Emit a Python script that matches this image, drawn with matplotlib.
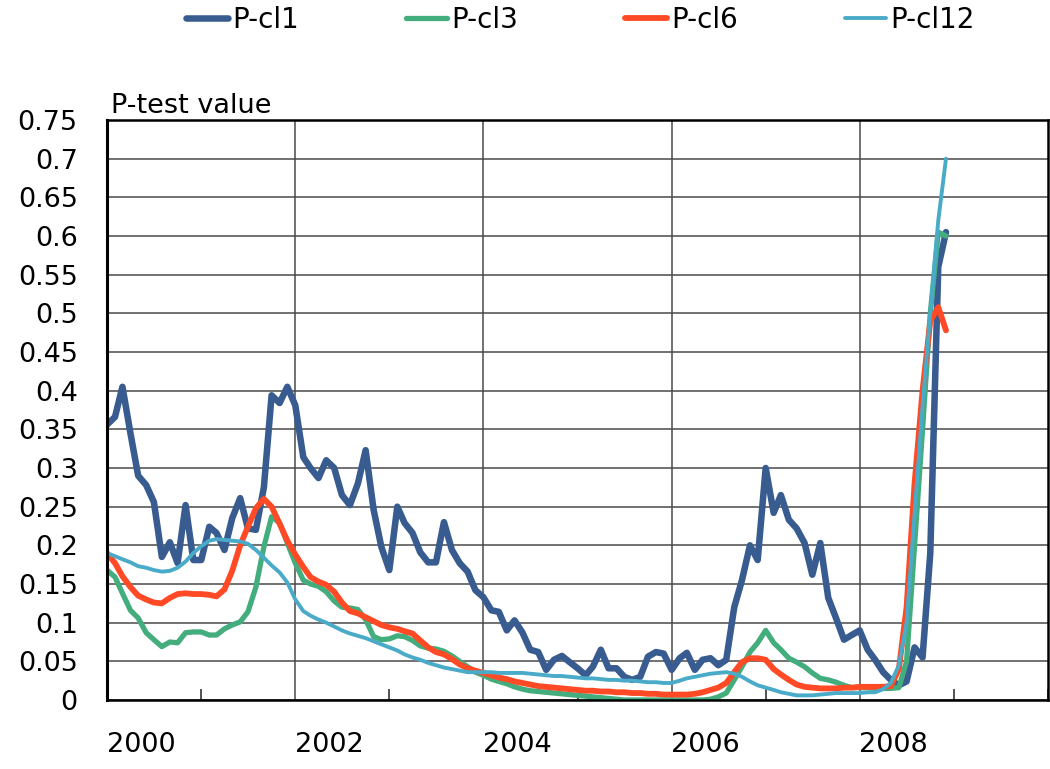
import numpy as np
import pandas as pd
import matplotlib
matplotlib.use("Agg")
import matplotlib.pyplot as plt
import matplotlib.dates as mdates
from matplotlib.transforms import ScaledTranslation

# Monthly P-test values, Jan 2000 - Dec 2008
months = pd.date_range("2000-01-01", periods=108, freq="MS")

p_cl1 = [
    0.356, 0.366, 0.405, 0.345, 0.290, 0.278, 0.256, 0.185, 0.204, 0.177, 0.252, 0.181,
    0.181, 0.224, 0.216, 0.194, 0.235, 0.261, 0.222, 0.220, 0.275, 0.394, 0.384, 0.405,
    0.381, 0.314, 0.300, 0.287, 0.310, 0.300, 0.265, 0.252, 0.280, 0.323, 0.246, 0.198,
    0.168, 0.250, 0.229, 0.216, 0.191, 0.178, 0.178, 0.230, 0.194, 0.177, 0.166, 0.142,
    0.133, 0.116, 0.114, 0.090, 0.103, 0.087, 0.065, 0.062, 0.039, 0.052, 0.057, 0.049,
    0.041, 0.032, 0.043, 0.065, 0.041, 0.041, 0.030, 0.026, 0.030, 0.056, 0.062, 0.060,
    0.039, 0.054, 0.061, 0.039, 0.052, 0.054, 0.045, 0.052, 0.120, 0.155, 0.200, 0.181,
    0.300, 0.242, 0.265, 0.233, 0.222, 0.203, 0.162, 0.203, 0.132, 0.106, 0.078, 0.084,
    0.090, 0.065, 0.052, 0.036, 0.026, 0.019, 0.024, 0.068, 0.055, 0.190, 0.560, 0.605]

p_cl3 = [
    0.168, 0.159, 0.138, 0.116, 0.106, 0.087, 0.078, 0.069, 0.075, 0.074, 0.087, 0.088,
    0.088, 0.084, 0.084, 0.092, 0.097, 0.101, 0.114, 0.146, 0.198, 0.237, 0.229, 0.203,
    0.177, 0.155, 0.150, 0.147, 0.140, 0.128, 0.120, 0.119, 0.117, 0.104, 0.082, 0.078,
    0.079, 0.083, 0.082, 0.077, 0.070, 0.067, 0.066, 0.063, 0.057, 0.050, 0.043, 0.036,
    0.032, 0.027, 0.024, 0.021, 0.017, 0.014, 0.012, 0.011, 0.010, 0.009, 0.008, 0.007,
    0.006, 0.005, 0.004, 0.003, 0.002, 0.001, 0.000, 0.000, 0.000, 0.000, 0.000, 0.000,
    0.000, 0.000, 0.000, 0.000, 0.000, 0.001, 0.004, 0.009, 0.026, 0.043, 0.062, 0.074,
    0.090, 0.074, 0.065, 0.054, 0.049, 0.043, 0.035, 0.028, 0.026, 0.023, 0.019, 0.016,
    0.016, 0.016, 0.015, 0.015, 0.015, 0.016, 0.050, 0.200, 0.350, 0.500, 0.605, 0.600]

p_cl6 = [
    0.190, 0.177, 0.160, 0.146, 0.135, 0.130, 0.126, 0.125, 0.132, 0.137, 0.138, 0.137,
    0.137, 0.136, 0.134, 0.143, 0.167, 0.200, 0.224, 0.248, 0.260, 0.250, 0.228, 0.206,
    0.188, 0.172, 0.159, 0.153, 0.149, 0.140, 0.126, 0.115, 0.112, 0.107, 0.102, 0.097,
    0.094, 0.092, 0.089, 0.086, 0.077, 0.068, 0.062, 0.059, 0.053, 0.046, 0.041, 0.038,
    0.035, 0.032, 0.029, 0.027, 0.024, 0.022, 0.020, 0.018, 0.017, 0.016, 0.015, 0.014,
    0.013, 0.012, 0.012, 0.011, 0.011, 0.010, 0.010, 0.009, 0.009, 0.008, 0.008, 0.007,
    0.007, 0.007, 0.007, 0.008, 0.010, 0.013, 0.016, 0.022, 0.036, 0.049, 0.054, 0.054,
    0.052, 0.040, 0.033, 0.026, 0.020, 0.017, 0.016, 0.015, 0.015, 0.015, 0.016, 0.016,
    0.017, 0.017, 0.017, 0.017, 0.018, 0.040, 0.120, 0.280, 0.400, 0.490, 0.508, 0.478]

p_cl12 = [
    0.190, 0.186, 0.182, 0.178, 0.173, 0.171, 0.168, 0.166, 0.167, 0.171, 0.179, 0.190,
    0.199, 0.206, 0.208, 0.207, 0.206, 0.205, 0.202, 0.194, 0.184, 0.174, 0.165, 0.152,
    0.130, 0.115, 0.109, 0.104, 0.100, 0.095, 0.090, 0.086, 0.083, 0.080, 0.076, 0.072,
    0.068, 0.064, 0.059, 0.055, 0.052, 0.048, 0.045, 0.042, 0.040, 0.038, 0.036, 0.036,
    0.036, 0.036, 0.035, 0.035, 0.035, 0.035, 0.034, 0.033, 0.032, 0.031, 0.031, 0.030,
    0.029, 0.028, 0.028, 0.027, 0.026, 0.026, 0.025, 0.025, 0.024, 0.023, 0.023, 0.022,
    0.022, 0.025, 0.028, 0.030, 0.032, 0.034, 0.035, 0.036, 0.034, 0.030, 0.024, 0.019,
    0.016, 0.013, 0.010, 0.008, 0.006, 0.006, 0.006, 0.007, 0.008, 0.009, 0.009, 0.009,
    0.009, 0.010, 0.010, 0.014, 0.022, 0.045, 0.100, 0.240, 0.380, 0.500, 0.620, 0.700]

series_names = ["P-cl1", "P-cl3", "P-cl6", "P-cl12"]
series_colors = ["#385b90", "#43ad7d", "#ff4a25", "#4aabc8"]
series_widths = [4.7, 3.8, 4.2, 2.8]

y_ticks = [0, 0.05, 0.1, 0.15, 0.2, 0.25, 0.3, 0.35, 0.4, 0.45, 0.5, 0.55, 0.6, 0.65, 0.7, 0.75]
y_labels = ["0", "0.05", "0.1", "0.15", "0.2", "0.25", "0.3", "0.35", "0.4", "0.45",
            "0.5", "0.55", "0.6", "0.65", "0.7", "0.75"]
x_years = ["2000", "2002", "2004", "2006", "2008"]

#%%
plt.rcParams["font.family"] = ["DejaVu Sans"]
fig = plt.figure(figsize=(10.5, 7.69), dpi=100)
ax = fig.add_axes([107 / 1050, 1 - 700 / 769, 941 / 1050, 580 / 769])

for vals, name, col, lw in zip([p_cl1, p_cl3, p_cl6, p_cl12], series_names,
                               series_colors, series_widths):
    ax.plot(months, vals, color=col, lw=lw, label=name,
            solid_capstyle="round", solid_joinstyle="round")

ax.set_xlim(pd.Timestamp("2000-01-01"), pd.Timestamp("2010-01-01"))
ax.set_ylim(0, 0.75)

# y axis: gridline every 0.05
ax.set_yticks(y_ticks)
ax.set_yticklabels(y_labels)
ax.tick_params(axis="y", length=0, pad=21, labelsize=19.5)

# x axis: gridlines every 2 years, small inward ticks on odd years
ax.set_xticks([pd.Timestamp(y + "-01-01") for y in x_years])
ax.set_xticklabels(x_years)
ax.xaxis.set_minor_locator(mdates.YearLocator(1))
ax.tick_params(axis="x", which="major", length=0, pad=23, labelsize=19.5)
ax.tick_params(axis="x", which="minor", direction="in", length=8, width=1.2, color="#333333")
offset = ScaledTranslation(0.34, 0, fig.dpi_scale_trans)
for lab in ax.get_xticklabels():
    lab.set_transform(lab.get_transform() + offset)

ax.grid(True, which="major", axis="both", color="#4a4a4a", lw=1.1)
ax.set_axisbelow(True)
for side in ["left", "right", "top", "bottom"]:
    ax.spines[side].set_linewidth(1.8)
    ax.spines[side].set_color("black")
ax.spines["left"].set_linewidth(2.2)

ax.annotate("P-test value", xy=(0, 1), xycoords="axes fraction",
            xytext=(3, 5), textcoords="offset points", fontsize=19.5,
            ha="left", va="baseline")

fig.legend(loc="center left", bbox_to_anchor=(186 / 1050, 1 - 20 / 769), ncol=4,
           frameon=False, fontsize=20, handlelength=1.5, handletextpad=0.15,
           columnspacing=3.85, borderpad=0, borderaxespad=0)

fig.savefig("out.png", dpi=100)
